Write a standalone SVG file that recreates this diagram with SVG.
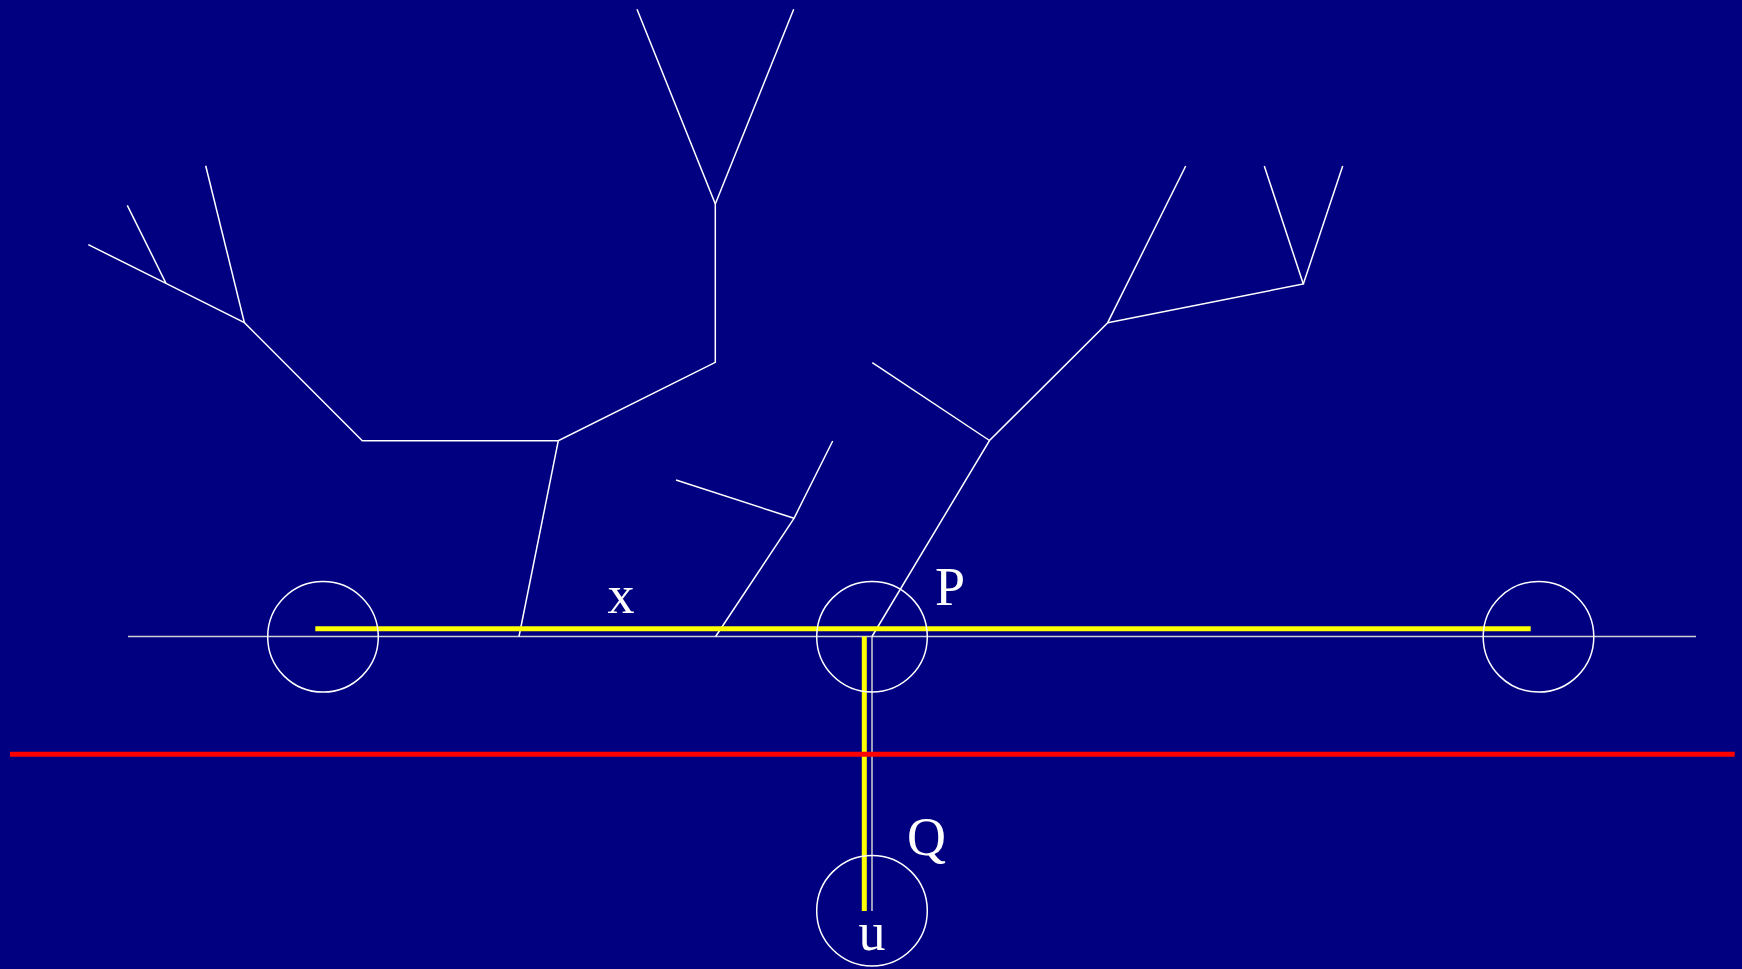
<svg xmlns="http://www.w3.org/2000/svg" width="1742" height="969" viewBox="0 0 1742 969">
<style>
.tree{fill:none;stroke:#ffffff;stroke-width:1.5;stroke-linejoin:miter;stroke-linecap:butt}
.axis{fill:none;stroke:#d0d0d0;stroke-width:1.5}
.node{fill:none;stroke:#ffffff;stroke-width:1.5;shape-rendering:geometricPrecision}
.yel{fill:none;stroke:#ffff00;stroke-width:5}
.red{fill:none;stroke:#ff0000;stroke-width:5}
.lbl{fill:#ffffff;font-family:"Liberation Serif","Times New Roman",Times,serif;font-size:54px}
</style>
<rect x="0" y="0" width="1742" height="969" fill="#000080"/>
<g id="connectors">
<line class="axis" x1="128" y1="636.5" x2="1696" y2="636.5"/>
<line class="axis" x1="872" y1="636.5" x2="872" y2="911"/>
<polyline class="tree" points="88.3,244.7 166,283.3 244.4,322.7 362.3,440.7 558.3,440.7 715.3,362.3 715.3,204 637,9.3"/>
<line class="tree" x1="127.3" y1="205.3" x2="166" y2="283.3"/>
<line class="tree" x1="205.7" y1="165.7" x2="244.4" y2="322.7"/>
<line class="tree" x1="715.3" y1="204" x2="793.7" y2="9.3"/>
<line class="tree" x1="558.3" y1="440.7" x2="519" y2="636.5"/>
<polyline class="tree" points="715.6,636.5 794,518.3 832.7,441"/>
<line class="tree" x1="676" y1="480" x2="794" y2="518.3"/>
<polyline class="tree" points="872,636.5 989.5,440.5 1107.7,322.7 1185.7,166"/>
<line class="tree" x1="872.3" y1="362.7" x2="989.5" y2="440.5"/>
<polyline class="tree" points="1107.7,322.7 1303.3,284 1264.3,166"/>
<line class="tree" x1="1303.3" y1="284" x2="1342.7" y2="166"/>
<line class="yel" x1="315.3" y1="628.8" x2="1530.7" y2="628.8"/>
<line class="yel" x1="864.3" y1="636.5" x2="864.3" y2="911"/>
<line class="red" x1="10" y1="754.3" x2="1734.7" y2="754.3"/>
</g>
<g id="node-left"><circle class="node" cx="323" cy="636.8" r="55.3"/></g>
<g id="node-p"><circle class="node" cx="872" cy="636.7" r="55.3"/></g>
<g id="node-right"><circle class="node" cx="1538.5" cy="636.8" r="55.3"/></g>
<g id="node-u"><circle class="node" cx="872" cy="910.7" r="55.3"/></g>
<g id="labels">
<text class="lbl" x="621" y="613" text-anchor="middle">x</text>
<text class="lbl" x="935" y="605">P</text>
<text class="lbl" x="907" y="855">Q</text>
<text class="lbl" x="872" y="950" text-anchor="middle">u</text>
</g>
</svg>
